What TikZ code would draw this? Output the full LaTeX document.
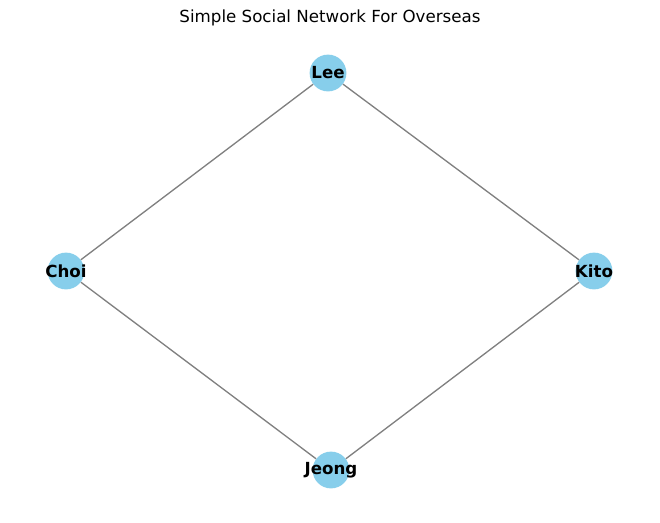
\documentclass[tikz,border=0pt]{standalone}
\usepackage{fontspec}
\setmainfont{DejaVu Sans}
\usepackage{tikz}
\usetikzlibrary{positioning}
\tikzset{person/.style = {fill=skyblue, circle, inner sep = 0, minimum size = 27.6pt}}
\tikzset{tie/.style = {draw=edgegray, line width = 1pt}}
\definecolor{skyblue}{HTML}{87CEEB}
\definecolor{edgegray}{HTML}{808080}

\begin{document}
\begin{tikzpicture}[x={(0.75pt,0)}, y={(0,-0.75pt)}]
      \useasboundingbox (0, 0) rectangle (660, 522);
      \node (title) at (330, 18) {\fontsize{12.5}{15}\selectfont Simple Social Network For Overseas};
      \node [person] (lee) at (328, 73) {};
      \node [person] (choi) at (66, 271) {};
      \node [person] (kito) at (594, 271) {};
      \node [person] (jeong) at (331, 470) {};
      \draw [tie] (lee) -- (choi);
      \draw [tie] (lee) -- (kito);
      \draw [tie] (choi) -- (jeong);
      \draw [tie] (kito) -- (jeong);
      \foreach \who/\name in {lee/Lee, choi/Choi, kito/Kito, jeong/Jeong} {
        \node (\who text) at (\who) {\fontsize{12.5}{15}\selectfont\bfseries \name};
      }
    \end{tikzpicture}
\end{document}
